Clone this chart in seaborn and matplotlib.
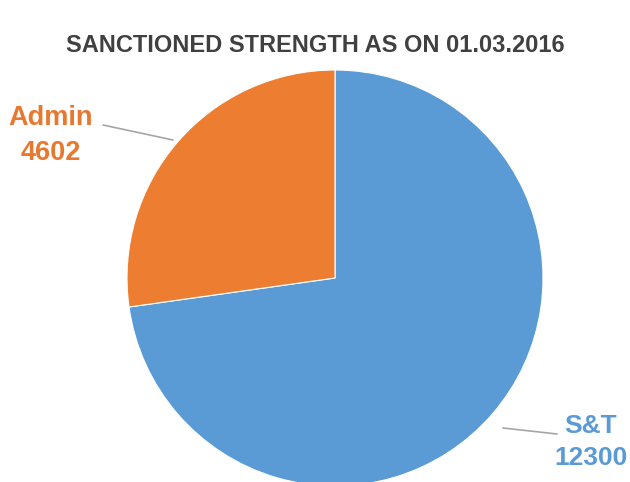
import matplotlib
matplotlib.use("Agg")
import matplotlib.pyplot as plt
import seaborn as sns
from matplotlib import font_manager

categories = ["S&T", "Admin"]
values = [12300, 4602]
colors = ["#5B9BD5", "#ED7D31"]
title = "SANCTIONED STRENGTH AS ON 01.03.2016"

sns.set_theme(style="white")
names = {f.name for f in font_manager.fontManager.ttflist}
narrow = "Liberation Sans Narrow" if "Liberation Sans Narrow" in names else "Liberation Sans"
plt.rcParams['font.family'] = [narrow, 'DejaVu Sans']

W, H = 630, 482
fig = plt.figure(figsize=(W / 100, H / 100), dpi=100)
cx, cy, R = 335, 278, 208
ax = fig.add_axes([(cx - R) / W, (H - cy - R) / H, 2 * R / W, 2 * R / H])
ax.axis("off")

ax.pie(values, colors=colors, startangle=90, counterclock=False, radius=1,
       wedgeprops=dict(edgecolor="white", linewidth=0.8))
ax.set_xlim(-1, 1)
ax.set_ylim(-1, 1)
ax.set_aspect("equal")

def d(px, py):
    return ((px - cx) / R, (cy - py) / R)

# leader lines
x0, y0 = d(103, 125); x1, y1 = d(173, 140)
ax.plot([x0, x1], [y0, y1], color="#A6A6A6", lw=1.2, clip_on=False)
x0, y0 = d(503, 428); x1, y1 = d(557, 434)
ax.plot([x0, x1], [y0, y1], color="#A6A6A6", lw=1.2, clip_on=False)

tx, ty = d(51, 136)
ax.text(tx, ty, f"{categories[1]}\n{values[1]}", color="#E8782F", fontsize=19.5,
        fontweight="bold", ha="center", va="center", linespacing=1.45, clip_on=False)
tx, ty = d(591, 442)
ax.text(tx, ty, f"{categories[0]}\n{values[0]}", color="#5B9BD5", fontsize=19,
        fontweight="bold", ha="center", va="center", linespacing=1.45, clip_on=False)

fig.text(315 / W, 1 - 45 / H, title, color="#404040", fontsize=17, fontweight="bold",
         ha="center", va="center")

fig.savefig("out.png", dpi=100)
